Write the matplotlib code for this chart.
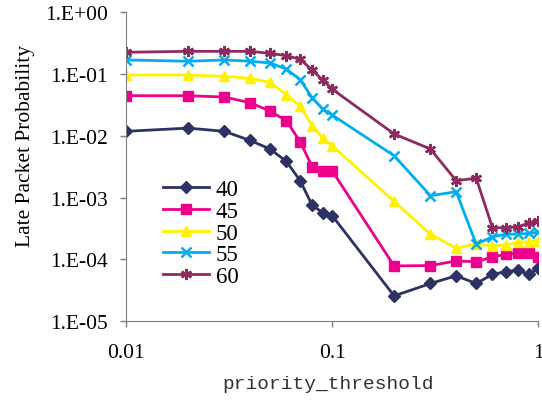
import matplotlib.pyplot as plt

thresholds = [0.01, 0.02, 0.03, 0.04, 0.05, 0.06, 0.07, 0.08, 0.09, 0.1,
              0.2, 0.3, 0.4, 0.5, 0.6, 0.7, 0.8, 0.9, 1.0]

late_40 = [0.0118, 0.0133, 0.0118, 0.0084, 0.0061, 0.00384, 0.00187, 0.00075, 0.00057, 0.00051,
           2.55e-5, 4.05e-5, 5.4e-5, 4.05e-5, 5.7e-5, 6.3e-5, 6.7e-5, 5.7e-5, 7.1e-5]
late_45 = [0.0445, 0.0445, 0.0424, 0.0343, 0.0251, 0.0175, 0.0080, 0.00315, 0.00271, 0.00271,
           7.8e-5, 7.9e-5, 9.4e-5, 9.1e-5, 1.09e-4, 1.21e-4, 1.25e-4, 1.25e-4, 1.07e-4]
late_50 = [0.0964, 0.0964, 0.0918, 0.0852, 0.0733, 0.0462, 0.030, 0.0145, 0.0093, 0.0069,
           8.65e-4, 2.55e-4, 1.51e-4, 1.76e-4, 1.65e-4, 1.7e-4, 1.91e-4, 1.9e-4, 1.99e-4]
late_55 = [0.169, 0.161, 0.169, 0.161, 0.151, 0.120, 0.081, 0.0413, 0.0271, 0.0217,
           4.74e-3, 1.07e-3, 1.24e-3, 1.76e-4, 2.31e-4, 2.55e-4, 2.55e-4, 2.62e-4, 2.75e-4]
late_60 = [0.225, 0.233, 0.233, 0.233, 0.216, 0.198, 0.173, 0.116, 0.080, 0.057,
           0.0107, 0.0061, 0.00187, 0.00206, 3.23e-4, 3.23e-4, 3.35e-4, 3.85e-4, 4.19e-4]

series = {
    "40": (late_40, "#2E3163", "D", 6),
    "45": (late_45, "#EC008C", "s", 6.5),
    "50": (late_50, "#FFF200", "^", 7),
    "55": (late_55, "#00AEEF", "x", 7),
    "60": (late_60, "#8E2A5F", (6, 2, 0), 8),
}

fig = plt.figure(figsize=(5.42, 4.02), dpi=100)
ax = fig.add_axes([0.2325, 0.199, 0.7605, 0.768])

for name, (vals, color, marker, ms) in series.items():
    ax.plot(thresholds, vals, color=color, marker=marker, markersize=ms,
            linewidth=2, markeredgewidth=1.8 if marker in ("x", (6, 2, 0)) else 1,
            label=name)

ax.set_xscale("log")
ax.set_yscale("log")
ax.set_xlim(0.01, 1)
ax.set_ylim(1e-5, 1)

ax.set_xticks([0.01, 0.1, 1])
ax.set_xticklabels(["0.01", "0.1", "1"])
yt = [1e-5, 1e-4, 1e-3, 1e-2, 1e-1, 1]
ax.set_yticks(yt)
ax.set_yticklabels(["1.E-05", "1.E-04", "1.E-03", "1.E-02", "1.E-01", "1.E+00"])
ax.minorticks_off()

for lab in ax.get_xticklabels() + ax.get_yticklabels():
    lab.set_fontfamily("Liberation Serif")
    lab.set_fontsize(15.5)

ax.tick_params(direction="out", length=4, color="#808080", width=1)
ax.tick_params(axis="x", pad=12)
ax.tick_params(axis="y", pad=9)
for side in ("top", "right"):
    ax.spines[side].set_visible(False)
for side in ("left", "bottom"):
    ax.spines[side].set_color("#808080")

ax.set_ylabel("Late Packet Probability", family="Liberation Serif", fontsize=15.5)
ax.yaxis.set_label_coords(-0.222, 0.57)
ax.set_xlabel("priority_threshold", family="Liberation Mono", fontsize=14, color="#333333")
ax.xaxis.set_label_coords(0.49, -0.175)

leg = ax.legend(loc="center left", bbox_to_anchor=(163 / 542, 1 - 234 / 402),
                bbox_transform=fig.transFigure, frameon=False, borderpad=0,
                borderaxespad=0, prop={"family": "Liberation Serif", "size": 16.5},
                handlelength=2.0, labelspacing=0.04, handletextpad=0.3)

fig.savefig("out.png")
